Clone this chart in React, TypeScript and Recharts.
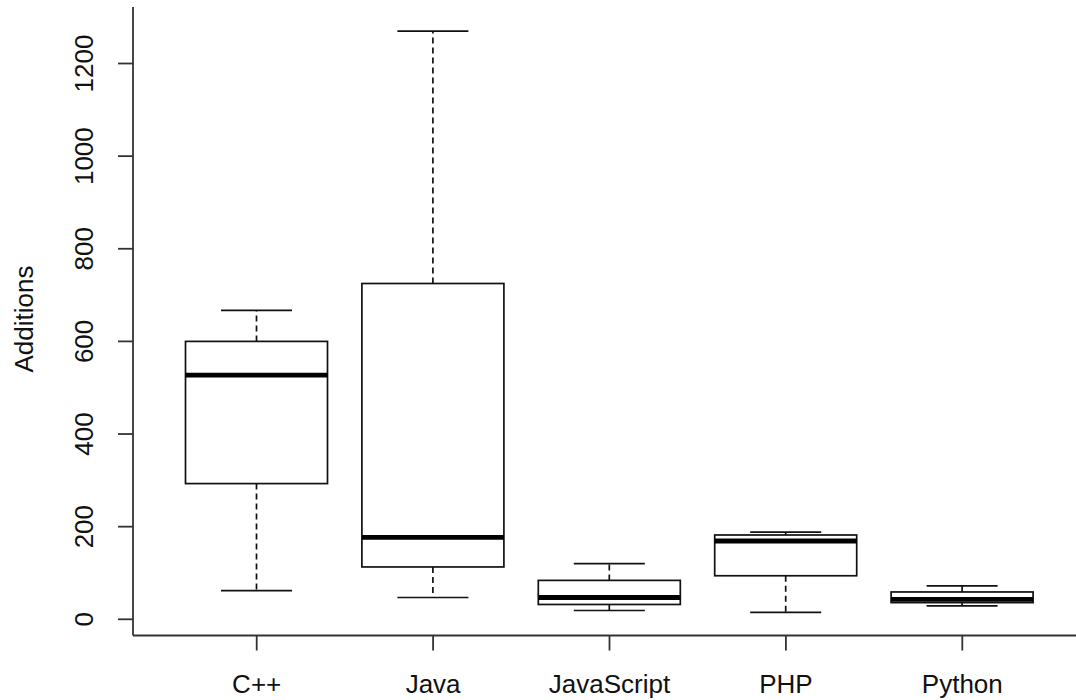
import React from "react";
import { ComposedChart, Bar, XAxis, YAxis } from "recharts";

const categories = ["C++", "Java", "JavaScript", "PHP", "Python"];
const mins = [62, 47, 19, 15, 29];
const q1s = [293, 113, 32, 94, 36];
const medians = [527, 177, 47, 169, 43];
const q3s = [600, 725, 84, 182, 59];
const maxs = [667, 1270, 120, 188, 72];
const yTicks = [0, 200, 400, 600, 800, 1000, 1200];

const data = categories.map((name, i) => ({
  name,
  min: mins[i],
  q1: q1s[i],
  median: medians[i],
  q3: q3s[i],
  max: maxs[i],
  range: [mins[i], maxs[i]],
}));

const FONT = "'Liberation Sans', Arial, sans-serif";
const INK = "#111111";
const AXIS = "#333333";

const BoxShape = (props: any) => {
  const { x, y, width, height, payload } = props;
  if (payload == null || width == null) return null;
  const top = Math.min(y, y + height);
  const bot = Math.max(y, y + height);
  const lo = payload.min;
  const hi = payload.max;
  const px = (v: number) => bot - ((v - lo) / (hi - lo)) * (bot - top);
  const cx = x + width / 2;
  const sw = width / 4;
  const yMax = px(payload.max);
  const yMin = px(payload.min);
  const yQ1 = px(payload.q1);
  const yQ3 = px(payload.q3);
  const yMed = px(payload.median);
  return (
    <g>
      <line x1={cx} x2={cx} y1={yQ3} y2={yMax} stroke={INK} strokeWidth={1.7} strokeDasharray="6 4" />
      <line x1={cx} x2={cx} y1={yQ1} y2={yMin} stroke={INK} strokeWidth={1.7} strokeDasharray="6 4" />
      <line x1={cx - sw} x2={cx + sw} y1={yMax} y2={yMax} stroke={INK} strokeWidth={1.7} />
      <line x1={cx - sw} x2={cx + sw} y1={yMin} y2={yMin} stroke={INK} strokeWidth={1.7} />
      <rect x={x} y={yQ3} width={width} height={yQ1 - yQ3} fill="#ffffff" stroke={INK} strokeWidth={1.7} />
      <line x1={x} x2={x + width} y1={yMed} y2={yMed} stroke="#000" strokeWidth={4.8} />
    </g>
  );
};

const XTick = (props: any) => {
  const { x, y, payload } = props;
  return (
    <text x={x} y={y} dy={42.5} textAnchor="middle" fontFamily={FONT} fontSize={26} fill="#111">
      {payload.value}
    </text>
  );
};

const YTick = (props: any) => {
  const { x, y, payload } = props;
  const bx = x - 24.5;
  return (
    <text
      x={bx}
      y={y}
      textAnchor="middle"
      transform={`rotate(-90, ${bx}, ${y})`}
      fontFamily={FONT}
      fontSize={26}
      fill="#111"
    >
      {payload.value}
    </text>
  );
};

export default function App() {
  return (
    <div
      style={{
        position: "fixed",
        left: 0,
        top: 0,
        width: 1076,
        height: 700,
        overflow: "hidden",
        background: "#fff",
      }}
    >
      <ComposedChart
        width={1086}
        height={700}
        data={data}
        margin={{ top: 7, right: 0, bottom: 0, left: 0 }}
      >
        <XAxis
          xAxisId="top"
          orientation="top"
          dataKey="name"
          height={0}
          tick={false}
          tickLine={false}
          axisLine={{ stroke: AXIS, strokeWidth: 1.8 }}
          padding={{ left: 35.5, right: 35.5 }}
        />
        <XAxis
          dataKey="name"
          type="category"
          height={64.5}
          padding={{ left: 35.5, right: 35.5 }}
          tickSize={15}
          tickMargin={0}
          tickLine={{ stroke: AXIS, strokeWidth: 1.8 }}
          axisLine={{ stroke: AXIS, strokeWidth: 1.8 }}
          tick={<XTick />}
          interval={0}
        />
        <YAxis
          width={133}
          type="number"
          domain={[-35, 1322]}
          allowDataOverflow
          ticks={yTicks}
          tickSize={15}
          tickMargin={0}
          tickLine={{ stroke: AXIS, strokeWidth: 1.8 }}
          axisLine={{ stroke: AXIS, strokeWidth: 1.8 }}
          tick={<YTick />}
          interval={0}
        />
        <Bar
          dataKey="range"
          barSize={142}
          shape={<BoxShape />}
          isAnimationActive={false}
        />
        <text
          x={33}
          y={319}
          textAnchor="middle"
          transform="rotate(-90, 33, 319)"
          fontFamily={FONT}
          fontSize={26}
          fill="#111"
        >
          Additions
        </text>
      </ComposedChart>
    </div>
  );
}
